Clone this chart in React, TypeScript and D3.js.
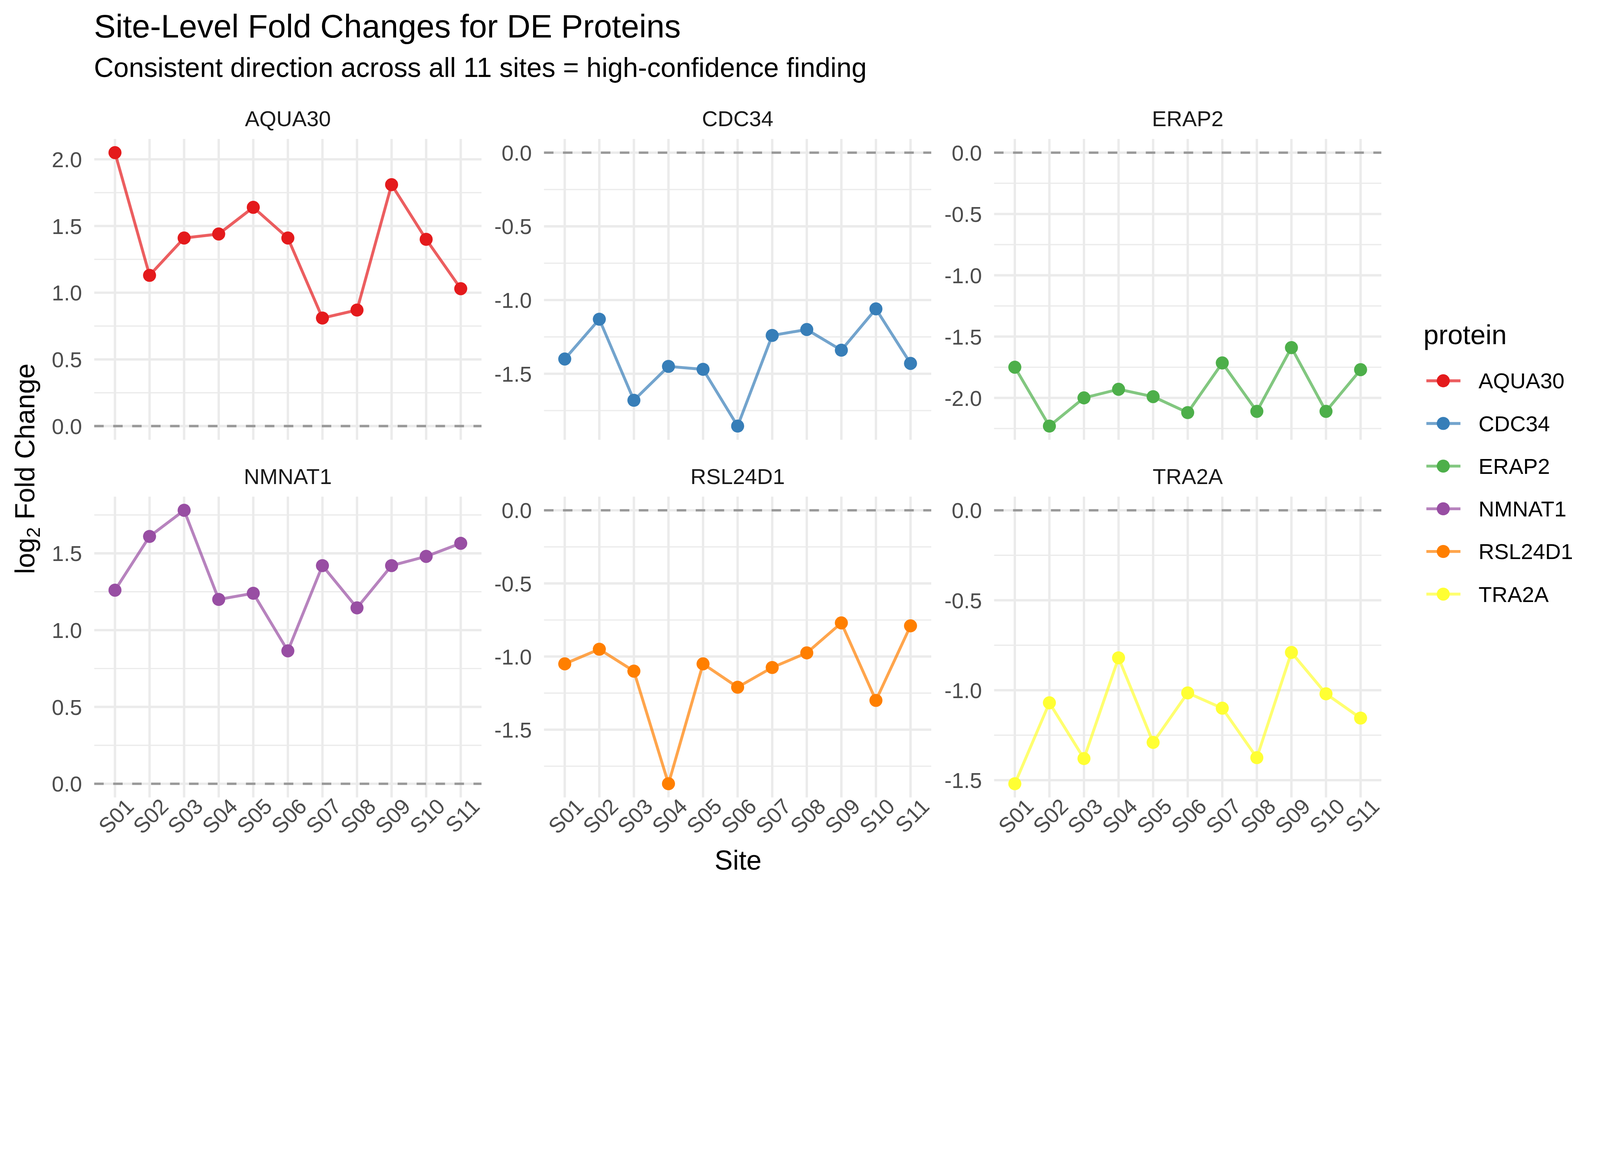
import { max, min, scaleLinear, scalePoint, line } from 'd3'

const SITES = ['S01', 'S02', 'S03', 'S04', 'S05', 'S06', 'S07', 'S08', 'S09', 'S10', 'S11']
const PROTEINS = ['AQUA30', 'CDC34', 'ERAP2', 'NMNAT1', 'RSL24D1', 'TRA2A']
const COLORS = ['#E41A1C', '#377EB8', '#4DAF4A', '#984EA3', '#FF7F00', '#FFFF33']

const AQUA30 = [2.05, 1.13, 1.41, 1.44, 1.64, 1.41, 0.81, 0.87, 1.81, 1.4, 1.03]
const CDC34 = [-1.4, -1.13, -1.68, -1.45, -1.47, -1.855, -1.24, -1.2, -1.34, -1.06, -1.43]
const ERAP2 = [-1.75, -2.23, -2.0, -1.93, -1.99, -2.12, -1.715, -2.11, -1.59, -2.11, -1.77]
const NMNAT1 = [1.26, 1.61, 1.78, 1.2, 1.24, 0.865, 1.42, 1.145, 1.42, 1.48, 1.565]
const RSL24D1 = [-1.05, -0.95, -1.1, -1.87, -1.05, -1.21, -1.075, -0.975, -0.77, -1.3, -0.79]
const TRA2A = [-1.52, -1.07, -1.38, -0.82, -1.29, -1.015, -1.1, -1.375, -0.79, -1.02, -1.155]

const SERIES = [AQUA30, CDC34, ERAP2, NMNAT1, RSL24D1, TRA2A]

const TITLE = 'Site-Level Fold Changes for DE Proteins'
const SUBTITLE = 'Consistent direction across all 11 sites = high-confidence finding'

const FONT = '"Liberation Sans", Arial, sans-serif'
const WIDTH = 5400
const HEIGHT = 3000
const PANEL_W = 1307
const PANEL_H = 1015
const COL_X = [318, 1836, 3355]
const ROW_Y = [469, 1676]
const SMALL = 73.5
const MEDIUM = 92

const fmt = (v: number) => {
  const s = v.toFixed(1)
  return s === '-0.0' ? '0.0' : s
}

function Panel({ index }: { index: number }) {
  const values = SERIES[index]
  const color = COLORS[index]
  const col = index % 3
  const row = Math.floor(index / 3)
  const left = COL_X[col]
  const top = ROW_Y[row]

  const x = scalePoint<string>().domain(SITES).range([0, PANEL_W]).padding(0.6)
  const lo = Math.min(0, min(values) ?? 0)
  const hi = Math.max(0, max(values) ?? 0)
  const pad = (hi - lo) * 0.05
  const y = scaleLinear().domain([lo - pad, hi + pad]).range([PANEL_H, 0])

  const majors = y.ticks(5)
  const step = majors.length > 1 ? majors[1] - majors[0] : 0.5
  const [d0, d1] = y.domain()
  const minors: number[] = []
  for (let v = majors[0] - step / 2; v <= d1; v += step) {
    if (v >= d0) minors.push(v)
  }

  const path = line<number>()
    .x((_, i) => x(SITES[i]) ?? 0)
    .y((d) => y(d))(values)

  return (
    <g transform={`translate(${left},${top})`}>
      <text x={PANEL_W / 2} y={-43} textAnchor="middle" fontSize={SMALL} fill="#1A1A1A">
        {PROTEINS[index]}
      </text>
      {minors.map((t) => (
        <line key={`mn-${t}`} x1={0} x2={PANEL_W} y1={y(t)} y2={y(t)} stroke="#EBEBEB" strokeWidth={4.2} />
      ))}
      {majors.map((t) => (
        <line key={`mj-${t}`} x1={0} x2={PANEL_W} y1={y(t)} y2={y(t)} stroke="#EBEBEB" strokeWidth={8} />
      ))}
      {SITES.map((s) => (
        <line key={`vx-${s}`} x1={x(s)} x2={x(s)} y1={0} y2={PANEL_H} stroke="#EBEBEB" strokeWidth={8} />
      ))}
      <line
        x1={0}
        x2={PANEL_W}
        y1={y(0)}
        y2={y(0)}
        stroke="#999999"
        strokeWidth={8}
        strokeDasharray="32 32"
      />
      <path
        d={path ?? ''}
        fill="none"
        stroke={color}
        strokeOpacity={0.7}
        strokeWidth={9.8}
        strokeLinejoin="round"
        strokeLinecap="butt"
      />
      {values.map((v, i) => (
        <circle key={`pt-${i}`} cx={x(SITES[i])} cy={y(v)} r={22} fill={color} />
      ))}
      {majors.map((t) => (
        <text key={`yl-${t}`} x={-41} y={y(t) + 26.5} textAnchor="end" fontSize={SMALL} fill="#4D4D4D">
          {fmt(t)}
        </text>
      ))}
      {row === 1 &&
        SITES.map((s) => (
          <text
            key={`xl-${s}`}
            transform={`translate(${(x(s) ?? 0) + 68},${PANEL_H + 35}) rotate(-45)`}
            textAnchor="end"
            fontSize={SMALL}
            fill="#4D4D4D"
          >
            {s}
          </text>
        ))}
    </g>
  )
}

export default function App() {
  const legendTop = 1285
  const legendStep = 144
  return (
    <div>
      <style>{'html,body{margin:0;padding:0;background:#fff}'}</style>
      <svg
        viewBox={`0 0 ${WIDTH} ${HEIGHT}`}
        style={{ display: 'block', width: '100%', height: 'auto' }}
        fontFamily={FONT}
      >
        <rect width={WIDTH} height={HEIGHT} fill="#FFFFFF" />
        <text x={317} y={126} fontSize={110} fill="#000000">
          {TITLE}
        </text>
        <text x={317} y={260} fontSize={MEDIUM} fill="#000000">
          {SUBTITLE}
        </text>

        {PROTEINS.map((p, i) => (
          <Panel key={p} index={i} />
        ))}

        <text x={2491} y={2935} textAnchor="middle" fontSize={MEDIUM} fill="#000000">
          Site
        </text>
        <text transform="translate(116,1582) rotate(-90)" textAnchor="middle" fontSize={MEDIUM} fill="#000000">
          log
          <tspan fontSize={64} dy={19}>
            2
          </tspan>
          <tspan dy={-19}> Fold Change</tspan>
        </text>

        <text x={4804} y={1161} fontSize={MEDIUM} fill="#000000">
          protein
        </text>
        {PROTEINS.map((p, i) => {
          const cy = legendTop + i * legendStep
          return (
            <g key={`lg-${p}`}>
              <line x1={4814} x2={4929} y1={cy} y2={cy} stroke={COLORS[i]} strokeOpacity={0.7} strokeWidth={9.8} />
              <circle cx={4871} cy={cy} r={22} fill={COLORS[i]} />
              <text x={4990} y={cy + 26} fontSize={SMALL} fill="#000000">
                {p}
              </text>
            </g>
          )
        })}
      </svg>
    </div>
  )
}
